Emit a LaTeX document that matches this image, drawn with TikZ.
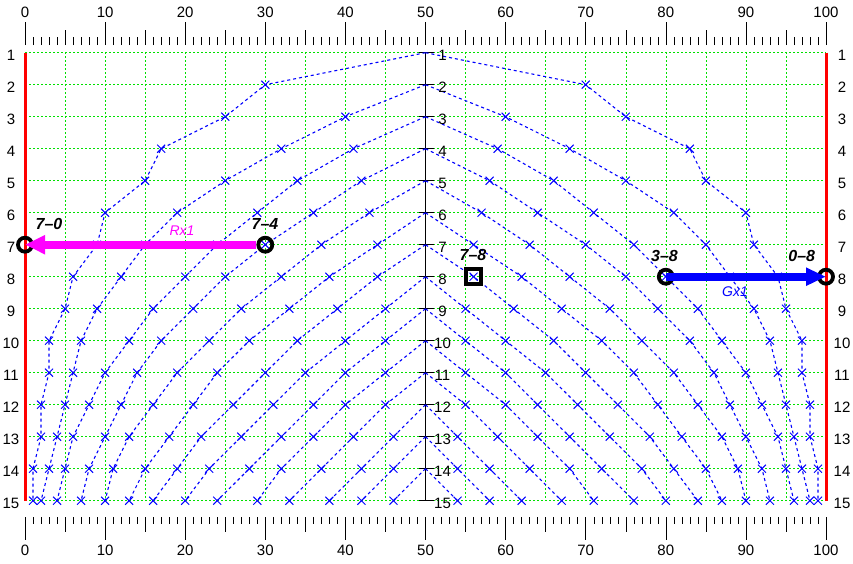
\documentclass[tikz,border=0pt]{standalone}
\usepackage{fontspec}
\setmainfont{Liberation Sans}
\usetikzlibrary{arrows.meta}
\definecolor{gridgreen}{RGB}{0,225,0}
\definecolor{cblue}{RGB}{0,0,255}
\definecolor{mag}{RGB}{255,0,255}
\definecolor{edgered}{RGB}{255,0,0}
\pgfdeclarelayer{back}
\pgfsetlayers{back,main}
\def\curvedata{1/{30,25,17,15,10,9,6,5,3,3,2,2,1,1},2/{40,32,25,19,15,12,9,7,6,5,4,3,2},3/{41,34,29,24,20,16,13,10,8,6,5,4},4/{42,36,30,25,21,17,14,12,10,8,7},5/{43,37,32,27,23,19,16,13,11,10},6/{44,38,33,28,24,21,18,15,13},7/{44,39,34,30,26,22,19,16},8/{45,40,35,31,27,23,20},9/{45,40,36,32,28,24},10/{45,40,36,32,29},11/{45,41,37,33},12/{46,42,38},13/{46,42},14/{46}}
\begin{document}
\begin{tikzpicture}[x=1pt,y=-1pt,
  declare function={X(\u)=25+8.01*\u; Y(\r)=52.7+32*(\r-1);
                    GX(\u)=floor(25.3+8.01*\u)+0.5; GY(\r)=floor(52.7+32*(\r-1))+0.5;},
  gridline/.style={gridgreen, line width=1pt, dash pattern=on 2pt off 2pt},
  edgeline/.style={edgered, line width=3pt},
  curve/.style={cblue, line width=1.1pt, dash pattern=on 3pt off 3pt},
  xm/.style={cblue, line width=1pt},
  ruletick/.style={black, line width=1pt},
  axisline/.style={black, line width=1.4pt},
  num/.style={font=\fontsize{15}{15}\selectfont, inner sep=0pt},
  lab/.style={font=\fontsize{16}{16}\selectfont\bfseries\itshape, inner sep=0pt},
  movelab/.style={font=\fontsize{14}{14}\selectfont\itshape, inner sep=0pt},
  ring/.style={circle, draw=black, line width=3.8pt, minimum size=14pt, inner sep=0pt},
  sqbox/.style={draw=black, line width=4pt, minimum size=15pt, inner sep=0pt},
  magarrow/.style={mag, line width=8pt, -{Triangle[length=20pt,width=18pt]}},
  bluearrow/.style={cblue, line width=8pt, -{Triangle[length=20pt,width=17pt]}}]
\useasboundingbox (0,0) rectangle (853,563);
\begin{pgfonlayer}{back}
\fill[white] (0,0) rectangle (853,563);
% grid
\foreach \u in {5,10,...,45,55,60,...,95}
  \draw[gridline] ({GX(\u)},52) -- ({GX(\u)},501);
\foreach \r in {1,...,15}
  \draw[gridline] (25,{GY(\r)}) -- (826,{GY(\r)});
% red edges
\draw[edgeline] ({X(0)},{Y(1)}) -- ({X(0)},{Y(15)});
\draw[edgeline] ({X(100)},{Y(1)}) -- ({X(100)},{Y(15)});
% centre axis
\draw[axisline] ({X(50)},{Y(1)}) -- ({X(50)},{Y(15)});
\foreach \r in {1,...,15}
  \draw[axisline] ({X(50)-7},{Y(\r)}) -- ({X(50)+8.5},{Y(\r)});
% curves
\foreach \k/\vals in \curvedata {
  \draw[curve] ({X(50)},{Y(\k)}) \foreach \x [count=\i] in \vals { -- ({X(\x)},{Y(\k+\i)}) };
  \draw[curve] ({X(50)},{Y(\k)}) \foreach \x [count=\i] in \vals { -- ({X(100-\x)},{Y(\k+\i)}) };
  \foreach \x [count=\i] in \vals {
    \draw[xm] ({X(\x)},{Y(\k+\i)}) +(-4,-4) -- +(4,4) +(-4,4) -- +(4,-4);
    \draw[xm] ({X(100-\x)},{Y(\k+\i)}) +(-4,-4) -- +(4,4) +(-4,4) -- +(4,-4);
  }
}
% rulers
\foreach \u in {0,...,100} {
  \pgfmathsetmacro\tt{ifthenelse(mod(\u,10)==0,23,ifthenelse(mod(\u,5)==0,15,8))}
  \pgfmathsetmacro\tb{ifthenelse(mod(\u,10)==0,23,ifthenelse(mod(\u,5)==0,15,7))}
  \draw[ruletick] ({GX(\u)},45) -- ++(0,-\tt);
  \draw[ruletick] ({GX(\u)},517) -- ++(0,\tb);
}
\end{pgfonlayer}
% ruler numbers
\foreach \u in {0,10,...,100} {
  \node[num] (top\u) at ({X(\u)},12.3) {\u};
  \node[num] (bot\u) at ({X(\u)},550.8) {\u};
}
% row numbers
\foreach \r in {1,...,15} {
  \node[num] (rl\r) at (11,{Y(\r)+3}) {\r};
  \node[num] (rr\r) at (842,{Y(\r)+3}) {\r};
  \node[num] (rc\r) at (442.5,{Y(\r)+3}) {\r};
}
% markers
\node[ring] (c70) at ({X(0)},{Y(7)}) {};
\node[ring] (c74) at ({X(30)},{Y(7)}) {};
\node[sqbox] (c78) at ({X(56)},{Y(8)}) {};
\node[ring] (c38) at ({X(80)},{Y(8)}) {};
\node[ring] (c08) at ({X(100)},{Y(8)}) {};
% arrows
\draw[magarrow] (c74) -- (c70.center);
\draw[bluearrow] (c38.center) -- (c08.center);
% labels
\node[lab] (l70) at (49,224) {7--0};
\node[lab] (l74) at (265,223.5) {7--4};
\node[lab] (l78) at (473,255) {7--8};
\node[lab] (l38) at (664.5,255.5) {3--8};
\node[lab] (l08) at (801.7,255.5) {0--8};
\node[movelab, text=mag] (rx) at (182,231) {Rx1};
\node[movelab, text=cblue] (gx) at (735,291.5) {Gx1};
\end{tikzpicture}
\end{document}
